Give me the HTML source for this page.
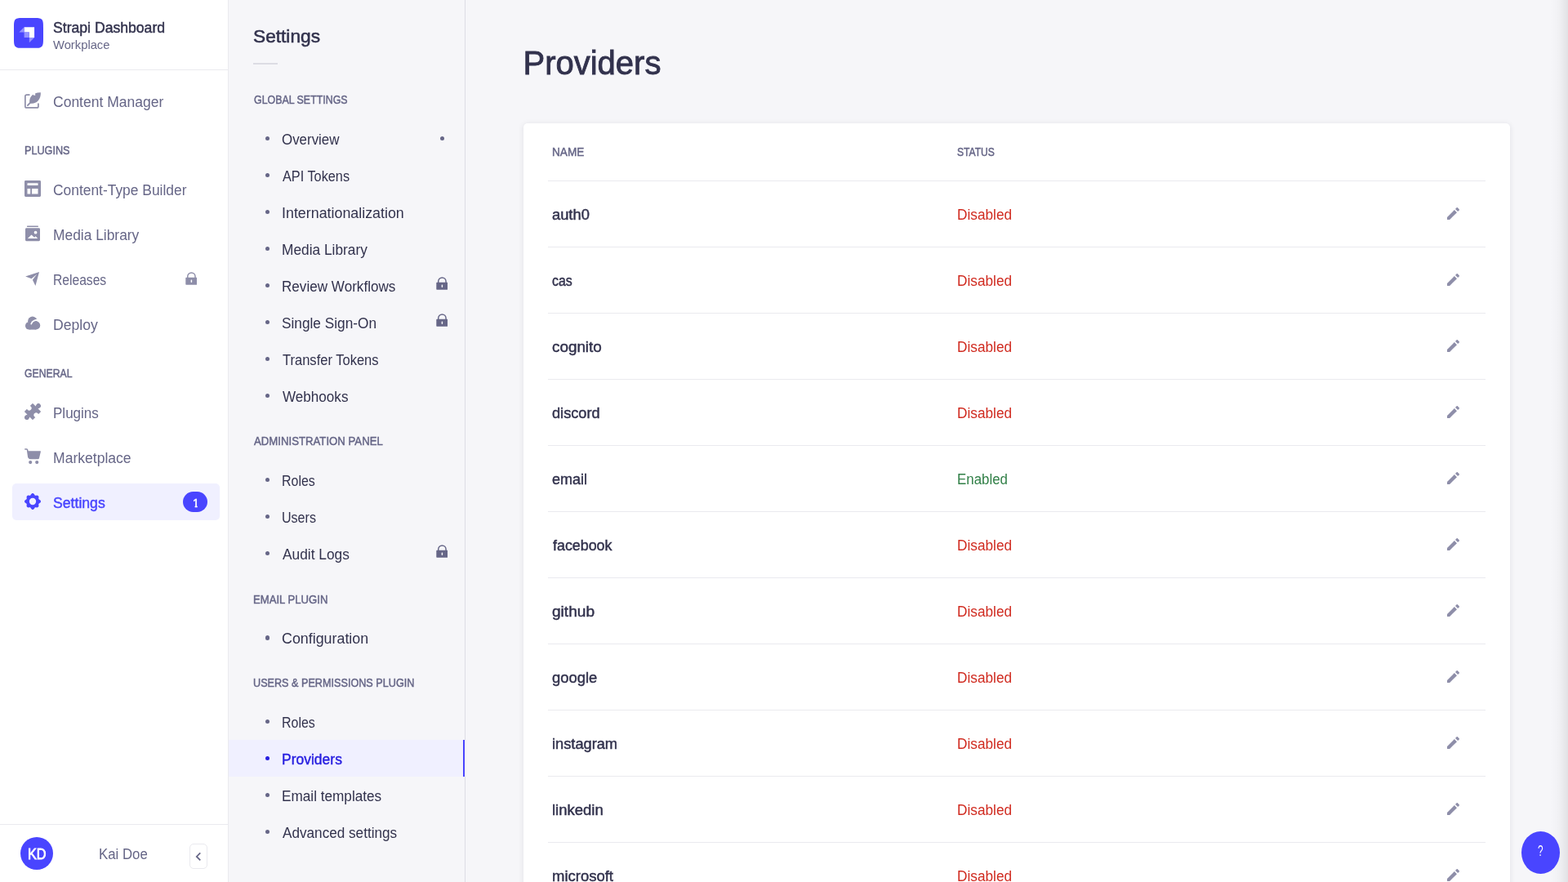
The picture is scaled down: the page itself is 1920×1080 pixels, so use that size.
<!DOCTYPE html>
<html lang="en">
<head>
<meta charset="utf-8">
<title>Strapi Dashboard - Providers</title>
<style>
*{box-sizing:border-box;margin:0;padding:0}
html,body{width:1920px;height:1080px;overflow:hidden;background:#f6f6f9}
body{font-family:"Liberation Sans",sans-serif;font-size:17.5px;color:#32324d;position:relative}
svg{display:block}
h1,h2{font-weight:400;font-size:inherit}
a{color:inherit;text-decoration:none;display:block}
.t{position:absolute;display:block;white-space:nowrap;line-height:20px;transform-origin:0 50%}
/* ---------- main nav ---------- */
#nav{position:absolute;left:0;top:0;width:280px;height:1080px;background:#fff;border-right:1px solid #eaeaef}
#brand{position:absolute;left:0;top:0;width:279px;height:86px;border-bottom:1px solid #eaeaef}
#logo{position:absolute;left:17px;top:22px;width:36px;height:36.8px}
.nl{position:absolute;left:15px;width:254px;height:45px;border-radius:5px}
.nl .ic{position:absolute;left:15px;top:12.5px;width:20px;height:20px}
.nl.act{background:#f0f0ff}
.nh{position:absolute}
.lock{position:absolute}
.bdg{position:absolute;left:208.8px;top:9.5px;width:30.3px;height:25px;border-radius:12.5px;background:#4945ff}
#user{position:absolute;left:0;top:1009px;width:279px;height:71px;border-top:1px solid #eaeaef}
#av{position:absolute;left:25px;top:15px;width:40px;height:40px;border-radius:50%;background:#4945ff}
#col{position:absolute;left:232px;top:23px;width:22px;height:31px;border:1px solid #eaeaef;border-radius:5px;background:#fff}
/* ---------- sub nav ---------- */
#sub{position:absolute;left:280px;top:0;width:290px;height:1080px;background:#f6f6f9;border-right:1px solid #dcdce4}
#sd{position:absolute;left:30px;top:77px;width:30px;height:2px;background:#dcdce4}
.si{position:absolute;left:0;width:289px;height:45px}
.si .b{position:absolute;left:44.6px;top:19.9px;width:5.6px;height:5.6px;border-radius:50%;background:#666687}
.si.act{background:#f0f0ff;border-right:2px solid #4945ff}
.si.act:after{content:"";position:absolute;left:289px;top:0;width:1px;height:45px;background:#f4f4f4}
.si.act .b{background:#271fe0}
.si .rd{position:absolute;left:258.7px;top:19.9px;width:5.6px;height:5.6px;border-radius:50%;background:#666687}
/* ---------- main ---------- */
#main{position:absolute;left:570px;top:0;width:1350px;height:1080px;background:#f6f6f9}
#card{position:absolute;left:71px;top:151px;width:1208px;height:960px;background:#fff;border-radius:5px;box-shadow:0 1px 7px rgba(33,33,52,.1)}
.hr{position:absolute;left:30px;width:1148px;height:1px;background:#eaeaef}
.tr{position:absolute;left:30px;width:1148px;height:80px}
.tr .p{position:absolute;width:15px;height:15px}
#help{position:absolute;left:1863px;top:1018px;width:47px;height:52px;border-radius:50%;background:#4945ff}
#edge{position:absolute;left:1897px;top:0;width:23px;height:1080px;background:linear-gradient(to right,rgba(0,0,0,0) 0%,rgba(0,0,0,.006) 26%,rgba(0,0,0,.02) 48%,rgba(0,0,0,.042) 70%,rgba(0,0,0,.066) 87%,rgba(0,0,0,.086) 100%)}
</style>
</head>
<body>
<main id="main">
  <h1><span class="t" id="m_h1" style="left:70.48px;top:66.94px;font-size:40px;color:#32324d;-webkit-text-stroke:0.85px #32324d;transform:scaleX(1.0000);">Providers</span></h1>
  <div id="card">
    <span class="t" id="m_th1" style="left:34.99px;top:25.74px;font-size:13.75px;color:#666687;-webkit-text-stroke:0.45px #666687;transform:scaleX(0.9894);">NAME</span><span class="t" id="m_th2" style="left:531.21px;top:25.74px;font-size:13.75px;color:#666687;-webkit-text-stroke:0.45px #666687;transform:scaleX(0.8788);">STATUS</span>
    <div class="hr" style="top:70px"></div>
    <div class="tr" style="top:71px"><span class="t" id="r_n0" style="left:5.34px;top:31.04px;font-size:17.5px;color:#32324d;-webkit-text-stroke:0.45px #32324d;transform:scaleX(1.0462);">auth0</span><span class="t" id="r_s0" style="left:500.73px;top:31.04px;font-size:17.5px;color:#d02b20;transform:scaleX(0.9861);">Disabled</span><svg class="p" style="left:1101.00px;top:32.00px" viewBox="0 0 24 24"><path fill="#8e8ea9" d="M23.604 3.514c.528.528.528 1.36 0 1.887l-2.622 2.607-4.99-4.99L18.6.396a1.322 1.322 0 0 1 1.887 0l3.118 3.118ZM0 24v-4.99l14.2-14.2 4.99 4.99L4.99 24H0Z"/></svg></div>
    <div class="hr" style="top:151px"></div>
    <div class="tr" style="top:152px"><span class="t" id="r_n1" style="left:5.01px;top:31.04px;font-size:17.5px;color:#32324d;-webkit-text-stroke:0.45px #32324d;transform:scaleX(0.9059);">cas</span><span class="t" id="r_s1" style="left:500.73px;top:31.04px;font-size:17.5px;color:#d02b20;transform:scaleX(0.9861);">Disabled</span><svg class="p" style="left:1101.00px;top:32.00px" viewBox="0 0 24 24"><path fill="#8e8ea9" d="M23.604 3.514c.528.528.528 1.36 0 1.887l-2.622 2.607-4.99-4.99L18.6.396a1.322 1.322 0 0 1 1.887 0l3.118 3.118ZM0 24v-4.99l14.2-14.2 4.99 4.99L4.99 24H0Z"/></svg></div>
    <div class="hr" style="top:232px"></div>
    <div class="tr" style="top:233px"><span class="t" id="r_n2" style="left:5.28px;top:31.04px;font-size:17.5px;color:#32324d;-webkit-text-stroke:0.45px #32324d;transform:scaleX(1.0767);">cognito</span><span class="t" id="r_s2" style="left:500.73px;top:31.04px;font-size:17.5px;color:#d02b20;transform:scaleX(0.9861);">Disabled</span><svg class="p" style="left:1101.00px;top:32.00px" viewBox="0 0 24 24"><path fill="#8e8ea9" d="M23.604 3.514c.528.528.528 1.36 0 1.887l-2.622 2.607-4.99-4.99L18.6.396a1.322 1.322 0 0 1 1.887 0l3.118 3.118ZM0 24v-4.99l14.2-14.2 4.99 4.99L4.99 24H0Z"/></svg></div>
    <div class="hr" style="top:313px"></div>
    <div class="tr" style="top:314px"><span class="t" id="r_n3" style="left:5.37px;top:31.04px;font-size:17.5px;color:#32324d;-webkit-text-stroke:0.45px #32324d;transform:scaleX(1.0394);">discord</span><span class="t" id="r_s3" style="left:500.73px;top:31.04px;font-size:17.5px;color:#d02b20;transform:scaleX(0.9861);">Disabled</span><svg class="p" style="left:1101.00px;top:32.00px" viewBox="0 0 24 24"><path fill="#8e8ea9" d="M23.604 3.514c.528.528.528 1.36 0 1.887l-2.622 2.607-4.99-4.99L18.6.396a1.322 1.322 0 0 1 1.887 0l3.118 3.118ZM0 24v-4.99l14.2-14.2 4.99 4.99L4.99 24H0Z"/></svg></div>
    <div class="hr" style="top:394px"></div>
    <div class="tr" style="top:395px"><span class="t" id="r_n4" style="left:5.01px;top:31.04px;font-size:17.5px;color:#32324d;-webkit-text-stroke:0.45px #32324d;transform:scaleX(1.0260);">email</span><span class="t" id="r_s4" style="left:501.05px;top:31.04px;font-size:17.5px;color:#328048;transform:scaleX(0.9645);">Enabled</span><svg class="p" style="left:1101.00px;top:32.00px" viewBox="0 0 24 24"><path fill="#8e8ea9" d="M23.604 3.514c.528.528.528 1.36 0 1.887l-2.622 2.607-4.99-4.99L18.6.396a1.322 1.322 0 0 1 1.887 0l3.118 3.118ZM0 24v-4.99l14.2-14.2 4.99 4.99L4.99 24H0Z"/></svg></div>
    <div class="hr" style="top:475px"></div>
    <div class="tr" style="top:476px"><span class="t" id="r_n5" style="left:5.90px;top:31.04px;font-size:17.5px;color:#32324d;-webkit-text-stroke:0.45px #32324d;transform:scaleX(1.0203);">facebook</span><span class="t" id="r_s5" style="left:500.73px;top:31.04px;font-size:17.5px;color:#d02b20;transform:scaleX(0.9861);">Disabled</span><svg class="p" style="left:1101.00px;top:32.00px" viewBox="0 0 24 24"><path fill="#8e8ea9" d="M23.604 3.514c.528.528.528 1.36 0 1.887l-2.622 2.607-4.99-4.99L18.6.396a1.322 1.322 0 0 1 1.887 0l3.118 3.118ZM0 24v-4.99l14.2-14.2 4.99 4.99L4.99 24H0Z"/></svg></div>
    <div class="hr" style="top:556px"></div>
    <div class="tr" style="top:557px"><span class="t" id="r_n6" style="left:5.38px;top:31.04px;font-size:17.5px;color:#32324d;-webkit-text-stroke:0.45px #32324d;transform:scaleX(1.0912);">github</span><span class="t" id="r_s6" style="left:500.73px;top:31.04px;font-size:17.5px;color:#d02b20;transform:scaleX(0.9861);">Disabled</span><svg class="p" style="left:1101.00px;top:32.00px" viewBox="0 0 24 24"><path fill="#8e8ea9" d="M23.604 3.514c.528.528.528 1.36 0 1.887l-2.622 2.607-4.99-4.99L18.6.396a1.322 1.322 0 0 1 1.887 0l3.118 3.118ZM0 24v-4.99l14.2-14.2 4.99 4.99L4.99 24H0Z"/></svg></div>
    <div class="hr" style="top:637px"></div>
    <div class="tr" style="top:638px"><span class="t" id="r_n7" style="left:4.95px;top:31.04px;font-size:17.5px;color:#32324d;-webkit-text-stroke:0.45px #32324d;transform:scaleX(1.0503);">google</span><span class="t" id="r_s7" style="left:500.73px;top:31.04px;font-size:17.5px;color:#d02b20;transform:scaleX(0.9861);">Disabled</span><svg class="p" style="left:1101.00px;top:32.00px" viewBox="0 0 24 24"><path fill="#8e8ea9" d="M23.604 3.514c.528.528.528 1.36 0 1.887l-2.622 2.607-4.99-4.99L18.6.396a1.322 1.322 0 0 1 1.887 0l3.118 3.118ZM0 24v-4.99l14.2-14.2 4.99 4.99L4.99 24H0Z"/></svg></div>
    <div class="hr" style="top:718px"></div>
    <div class="tr" style="top:719px"><span class="t" id="r_n8" style="left:4.56px;top:31.04px;font-size:17.5px;color:#32324d;-webkit-text-stroke:0.45px #32324d;transform:scaleX(1.0420);">instagram</span><span class="t" id="r_s8" style="left:500.73px;top:31.04px;font-size:17.5px;color:#d02b20;transform:scaleX(0.9861);">Disabled</span><svg class="p" style="left:1101.00px;top:32.00px" viewBox="0 0 24 24"><path fill="#8e8ea9" d="M23.604 3.514c.528.528.528 1.36 0 1.887l-2.622 2.607-4.99-4.99L18.6.396a1.322 1.322 0 0 1 1.887 0l3.118 3.118ZM0 24v-4.99l14.2-14.2 4.99 4.99L4.99 24H0Z"/></svg></div>
    <div class="hr" style="top:799px"></div>
    <div class="tr" style="top:800px"><span class="t" id="r_n9" style="left:4.87px;top:31.04px;font-size:17.5px;color:#32324d;-webkit-text-stroke:0.45px #32324d;transform:scaleX(1.0572);">linkedin</span><span class="t" id="r_s9" style="left:500.73px;top:31.04px;font-size:17.5px;color:#d02b20;transform:scaleX(0.9861);">Disabled</span><svg class="p" style="left:1101.00px;top:32.00px" viewBox="0 0 24 24"><path fill="#8e8ea9" d="M23.604 3.514c.528.528.528 1.36 0 1.887l-2.622 2.607-4.99-4.99L18.6.396a1.322 1.322 0 0 1 1.887 0l3.118 3.118ZM0 24v-4.99l14.2-14.2 4.99 4.99L4.99 24H0Z"/></svg></div>
    <div class="hr" style="top:880px"></div>
    <div class="tr" style="top:881px"><span class="t" id="r_n10" style="left:4.86px;top:31.04px;font-size:17.5px;color:#32324d;-webkit-text-stroke:0.45px #32324d;transform:scaleX(1.0558);">microsoft</span><span class="t" id="r_s10" style="left:500.73px;top:31.04px;font-size:17.5px;color:#d02b20;transform:scaleX(0.9861);">Disabled</span><svg class="p" style="left:1101.00px;top:32.00px" viewBox="0 0 24 24"><path fill="#8e8ea9" d="M23.604 3.514c.528.528.528 1.36 0 1.887l-2.622 2.607-4.99-4.99L18.6.396a1.322 1.322 0 0 1 1.887 0l3.118 3.118ZM0 24v-4.99l14.2-14.2 4.99 4.99L4.99 24H0Z"/></svg></div>
  </div>
</main>
<nav id="sub" aria-label="Settings">
  <h2><span class="t" id="s_h" style="left:30.09px;top:34.80px;font-size:22.5px;color:#32324d;-webkit-text-stroke:0.56px #32324d;transform:scaleX(1.0085);">Settings</span></h2>
  <span class="t" id="s_l1" style="left:30.65px;top:113.14px;font-size:13.75px;color:#666687;-webkit-text-stroke:0.45px #666687;transform:scaleX(0.9015);">GLOBAL SETTINGS</span>
  <a class="si" style="top:147px"><i class="b"></i><span class="t" id="s_ov" style="left:65.44px;top:13.74px;font-size:17.5px;color:#32324d;transform:scaleX(0.9664);">Overview</span><i class="rd"></i></a>
  <a class="si" style="top:192px"><i class="b"></i><span class="t" id="s_api" style="left:66.34px;top:13.74px;font-size:17.5px;color:#32324d;transform:scaleX(0.9300);">API Tokens</span></a>
  <a class="si" style="top:237px"><i class="b"></i><span class="t" id="s_i18" style="left:64.66px;top:13.74px;font-size:17.5px;color:#32324d;transform:scaleX(1.0197);">Internationalization</span></a>
  <a class="si" style="top:282px"><i class="b"></i><span class="t" id="s_sml" style="left:65.05px;top:13.74px;font-size:17.5px;color:#32324d;transform:scaleX(0.9887);">Media Library</span></a>
  <a class="si" style="top:327px"><i class="b"></i><span class="t" id="s_rw" style="left:65.06px;top:13.74px;font-size:17.5px;color:#32324d;transform:scaleX(0.9769);">Review Workflows</span><svg class="lock" style="left:253.60px;top:11.80px;width:14.4px;height:16px" viewBox="0 0 14.4 16"><path d="M2.75 7.2V5.6a4.65 4.65 0 0 1 9.3 0V7.2" fill="none" stroke="#666687" stroke-width="1.45"/><path fill-rule="evenodd" fill="#666687" d="M1 6.7H13.4A.7 .7 0 0 1 14.1 7.4V15.1A.7 .7 0 0 1 13.4 15.8H1A.7 .7 0 0 1 .3 15.1V7.4A.7 .7 0 0 1 1 6.7ZM6.65 10.3V12.3A.75 .75 0 0 0 8.15 12.3V10.3A.75 .75 0 0 0 6.65 10.3Z"/></svg></a>
  <a class="si" style="top:372px"><i class="b"></i><span class="t" id="s_sso" style="left:64.86px;top:13.74px;font-size:17.5px;color:#32324d;transform:scaleX(0.9860);">Single Sign-On</span><svg class="lock" style="left:253.60px;top:11.80px;width:14.4px;height:16px" viewBox="0 0 14.4 16"><path d="M2.75 7.2V5.6a4.65 4.65 0 0 1 9.3 0V7.2" fill="none" stroke="#666687" stroke-width="1.45"/><path fill-rule="evenodd" fill="#666687" d="M1 6.7H13.4A.7 .7 0 0 1 14.1 7.4V15.1A.7 .7 0 0 1 13.4 15.8H1A.7 .7 0 0 1 .3 15.1V7.4A.7 .7 0 0 1 1 6.7ZM6.65 10.3V12.3A.75 .75 0 0 0 8.15 12.3V10.3A.75 .75 0 0 0 6.65 10.3Z"/></svg></a>
  <a class="si" style="top:417px"><i class="b"></i><span class="t" id="s_tt" style="left:65.61px;top:13.74px;font-size:17.5px;color:#32324d;transform:scaleX(0.9444);">Transfer Tokens</span></a>
  <a class="si" style="top:462px"><i class="b"></i><span class="t" id="s_wh" style="left:65.83px;top:13.74px;font-size:17.5px;color:#32324d;transform:scaleX(0.9766);">Webhooks</span></a>
  <span class="t" id="s_l2" style="left:31.18px;top:531.24px;font-size:13.75px;color:#666687;-webkit-text-stroke:0.45px #666687;transform:scaleX(0.9592);">ADMINISTRATION PANEL</span>
  <a class="si" style="top:565px"><i class="b"></i><span class="t" id="s_ro1" style="left:64.91px;top:13.74px;font-size:17.5px;color:#32324d;transform:scaleX(0.9116);">Roles</span></a>
  <a class="si" style="top:610px"><i class="b"></i><span class="t" id="s_us" style="left:65.09px;top:13.74px;font-size:17.5px;color:#32324d;transform:scaleX(0.9174);">Users</span></a>
  <a class="si" style="top:655px"><i class="b"></i><span class="t" id="s_al" style="left:66.09px;top:13.74px;font-size:17.5px;color:#32324d;transform:scaleX(0.9898);">Audit Logs</span><svg class="lock" style="left:253.60px;top:11.80px;width:14.4px;height:16px" viewBox="0 0 14.4 16"><path d="M2.75 7.2V5.6a4.65 4.65 0 0 1 9.3 0V7.2" fill="none" stroke="#666687" stroke-width="1.45"/><path fill-rule="evenodd" fill="#666687" d="M1 6.7H13.4A.7 .7 0 0 1 14.1 7.4V15.1A.7 .7 0 0 1 13.4 15.8H1A.7 .7 0 0 1 .3 15.1V7.4A.7 .7 0 0 1 1 6.7ZM6.65 10.3V12.3A.75 .75 0 0 0 8.15 12.3V10.3A.75 .75 0 0 0 6.65 10.3Z"/></svg></a>
  <span class="t" id="s_l3" style="left:29.88px;top:724.64px;font-size:13.75px;color:#666687;-webkit-text-stroke:0.45px #666687;transform:scaleX(0.9539);">EMAIL PLUGIN</span>
  <a class="si" style="top:758.4px"><i class="b"></i><span class="t" id="s_cfg" style="left:65.17px;top:13.74px;font-size:17.5px;color:#32324d;transform:scaleX(1.0202);">Configuration</span></a>
  <span class="t" id="s_l4" style="left:30.31px;top:827.24px;font-size:13.75px;color:#666687;-webkit-text-stroke:0.45px #666687;transform:scaleX(0.9192);">USERS &amp; PERMISSIONS PLUGIN</span>
  <a class="si" style="top:861px"><i class="b"></i><span class="t" id="s_ro2" style="left:64.91px;top:13.74px;font-size:17.5px;color:#32324d;transform:scaleX(0.9116);">Roles</span></a>
  <a class="si act" style="top:906px"><i class="b"></i><span class="t" id="s_pr" style="left:65.29px;top:13.74px;font-size:17.5px;color:#271fe0;-webkit-text-stroke:0.45px #271fe0;transform:scaleX(0.9995);">Providers</span></a>
  <a class="si" style="top:951px"><i class="b"></i><span class="t" id="s_et" style="left:64.71px;top:13.74px;font-size:17.5px;color:#32324d;transform:scaleX(0.9817);">Email templates</span></a>
  <a class="si" style="top:996px"><i class="b"></i><span class="t" id="s_as" style="left:66.35px;top:13.74px;font-size:17.5px;color:#32324d;transform:scaleX(0.9800);">Advanced settings</span></a>
  <div id="sd"></div>
</nav>
<nav id="nav" aria-label="Main">
  <div id="brand">
    <svg id="logo" viewBox="0 0 32 32" preserveAspectRatio="none"><path fill="#4945FF" d="M0 11.0929C0 5.86368 0 3.24903 1.62452 1.62452C3.24903 0 5.86364 0 11.0929 0H20.9071C26.1363 0 28.751 0 30.3755 1.62452C32 3.24903 32 5.86364 32 11.0929V20.9071C32 26.1363 32 28.751 30.3755 30.3755C28.751 32 26.1363 32 20.9071 32H11.0929C5.86364 32 3.24903 32 1.62452 30.3755C0 28.751 0 26.1363 0 20.9071V11.0929Z"/><path fill="#fff" d="M22.0796 9.70667H11.1996V15.2533H16.7463V20.8H22.2929V9.92C22.2929 9.80218 22.1974 9.70667 22.0796 9.70667Z"/><path fill="#9593FF" d="M11.2 15.2533H16.5333C16.6512 15.2533 16.7467 15.3488 16.7467 15.4667V20.8H11.4133C11.2955 20.8 11.2 20.7045 11.2 20.5867V15.2533Z"/><path fill="#9593FF" d="M16.7467 20.8H22.2933L16.9288 26.1645C16.8616 26.2317 16.7467 26.1841 16.7467 26.0891V20.8Z"/><path fill="#9593FF" d="M11.2 15.2533H5.91091C5.81588 15.2533 5.76829 15.1384 5.83549 15.0712L11.2 9.70667V15.2533Z"/></svg>
    <span class="t" id="b_t" style="left:64.91px;top:23.84px;font-size:17.5px;color:#32324d;-webkit-text-stroke:0.45px #32324d;transform:scaleX(1.0065);">Strapi Dashboard</span><span class="t" id="b_s" style="left:65.02px;top:44.70px;font-size:15px;color:#666687;transform:scaleX(0.9840);">Workplace</span>
  </div>
  <a class="nl" style="top:100.5px"><svg class="ic" viewBox="0 0 20 20"><path d="M5.9 3.1H2.6A1.75 1.75 0 0 0 .85 4.85V17.2A1.75 1.75 0 0 0 2.6 18.95H15.15A1.75 1.75 0 0 0 16.9 17.2V14.1" fill="none" stroke="#8e8ea9" stroke-width="1.7" stroke-linecap="round"/><path d="M19.85 0.15C19.95 4.2 19.2 7.6 16.5 10.5C14 13.2 10.6 14.1 6.4 13.4C5.7 9.4 6.6 5.9 10.2 2.7C10.9 3.5 12.1 4 13.3 3.7C13.1 2.9 13.1 1.9 13.2 1.2C15.2 0.4 17.4 0.1 19.85 0.15Z" fill="#8e8ea9"/><path d="M7.2 12.7L3.9 16" stroke="#8e8ea9" stroke-width="1.8" stroke-linecap="round"/></svg><span class="t" id="n_cm" style="left:50.21px;top:14.44px;font-size:17.5px;color:#666687;transform:scaleX(1.0003);">Content Manager</span></a>
  <a class="nl" style="top:208.5px"><svg class="ic" viewBox="0 0 20 20"><path fill-rule="evenodd" fill="#8e8ea9" d="M1.4 0H18.6A1.4 1.4 0 0 1 20 1.4V18.6A1.4 1.4 0 0 1 18.6 20H1.4A1.4 1.4 0 0 1 0 18.6V1.4A1.4 1.4 0 0 1 1.4 0ZM3.5 3.2V6H16.5V3.2ZM3.5 10V16.4H7.2V10ZM9 10V16.4H16.5V10Z"/></svg><span class="t" id="n_ctb" style="left:50.09px;top:14.44px;font-size:17.5px;color:#666687;transform:scaleX(0.9945);">Content-Type Builder</span></a>
  <a class="nl" style="top:263.5px"><svg class="ic" viewBox="0 0 20 20"><rect x="2.9" y="0.4" width="14.1" height="1.6" rx=".7" fill="#8e8ea9"/><path fill-rule="evenodd" fill="#8e8ea9" d="M2.4 3.3H17.6A1.4 1.4 0 0 1 19 4.7V17.8A1.4 1.4 0 0 1 17.6 19.2H2.4A1.4 1.4 0 0 1 1 17.8V4.7A1.4 1.4 0 0 1 2.4 3.3ZM13.55 6.8a1.9 1.9 0 1 0 0 3.8a1.9 1.9 0 1 0 0-3.8ZM3.9 16.1L8.5 11.5L12.1 14.7L13.55 13.3L16.2 16.1Z"/></svg><span class="t" id="n_ml" style="left:49.50px;top:14.44px;font-size:17.5px;color:#666687;transform:scaleX(0.9930);">Media Library</span></a>
  <a class="nl" style="top:318.5px"><svg class="ic" viewBox="0 0 20 20"><path fill="#8e8ea9" d="M1.1 7.45L18 2L13.45 18.9L9.9 11.75L14.9 5L8.55 10.2Z"/></svg><span class="t" id="n_rel" style="left:49.67px;top:14.44px;font-size:17.5px;color:#666687;transform:scaleX(0.8932);">Releases</span><svg class="lock" style="left:212.00px;top:14.90px;width:14.4px;height:16px" viewBox="0 0 14.4 16"><path d="M2.75 7.2V5.6a4.65 4.65 0 0 1 9.3 0V7.2" fill="none" stroke="#8e8ea9" stroke-width="1.45"/><path fill-rule="evenodd" fill="#8e8ea9" d="M1 6.7H13.4A.7 .7 0 0 1 14.1 7.4V15.1A.7 .7 0 0 1 13.4 15.8H1A.7 .7 0 0 1 .3 15.1V7.4A.7 .7 0 0 1 1 6.7ZM6.65 10.3V12.3A.75 .75 0 0 0 8.15 12.3V10.3A.75 .75 0 0 0 6.65 10.3Z"/></svg></a>
  <a class="nl" style="top:373.5px"><svg class="ic" viewBox="0 0 20 20"><circle cx="9.8" cy="7.15" r="5.65" fill="#8e8ea9"/><circle cx="5.65" cy="12.9" r="4.7" fill="#8e8ea9"/><rect x="5.65" y="12.2" width="8.5" height="5.4" fill="#8e8ea9"/><path d="M17.4 7.0A6.1 6.1 0 0 0 8.35 10.55" fill="none" stroke="#fff" stroke-width="1.9" stroke-linecap="round"/><circle cx="14.1" cy="12.45" r="5.12" fill="#8e8ea9"/></svg><span class="t" id="n_dep" style="left:50.03px;top:14.44px;font-size:17.5px;color:#666687;transform:scaleX(1.0072);">Deploy</span></a>
  <a class="nl" style="top:481.5px"><svg class="ic" viewBox="0 0 20 20"><g transform="translate(10 10.05) rotate(-45)" fill="#8e8ea9"><rect x="-7.2" y="-7.2" width="14.4" height="14.4" rx=".7"/><rect x="6.8" y="-2.15" width="3.2" height="4.3"/><circle cx="10" cy="0" r="2.9"/><rect x="-10" y="-2.15" width="3.2" height="4.3"/><circle cx="-10" cy="0" r="2.9"/><circle cx="0" cy="-6.05" r="2.85" fill="#fff"/><circle cx="0" cy="6.05" r="2.85" fill="#fff"/></g></svg><span class="t" id="n_plg" style="left:49.84px;top:14.44px;font-size:17.5px;color:#666687;transform:scaleX(0.9730);">Plugins</span></a>
  <a class="nl" style="top:536.5px"><svg class="ic" viewBox="0 0 20 20"><path d="M.8 1H2.6A1 1 0 0 1 3.6 1.85L4.9 11" fill="none" stroke="#8e8ea9" stroke-width="1.6" stroke-linecap="round" stroke-linejoin="round"/><path fill="#8e8ea9" d="M3.9 3.2H19.2A.7 .7 0 0 1 19.9 4.05L18 12A1.7 1.7 0 0 1 16.35 13.3H6.6A1.7 1.7 0 0 1 4.9 11.85Z"/><circle cx="7.2" cy="17.1" r="2.1" fill="#8e8ea9"/><circle cx="15.2" cy="17.1" r="2.1" fill="#8e8ea9"/></svg><span class="t" id="n_mkt" style="left:49.64px;top:14.44px;font-size:17.5px;color:#666687;transform:scaleX(1.0033);">Marketplace</span></a>
  <a class="nl act" style="top:592.0px"><svg class="ic" style="top:12px" viewBox="0 0 20 20"><path fill-rule="evenodd" fill="#4945ff" d="M10.00 0.00 L10.49 0.08 L10.96 0.30 L11.39 0.64 L11.78 1.07 L12.12 1.54 L12.42 2.01 L12.71 2.42 L13.02 2.70 L13.43 2.74 L13.90 2.70 L14.41 2.64 L14.95 2.60 L15.48 2.61 L15.99 2.70 L16.44 2.89 L16.82 3.18 L17.11 3.56 L17.30 4.01 L17.39 4.52 L17.40 5.05 L17.36 5.59 L17.30 6.10 L17.26 6.57 L17.30 6.98 L17.58 7.29 L17.99 7.58 L18.46 7.88 L18.93 8.22 L19.36 8.61 L19.70 9.04 L19.92 9.51 L20.00 10.00 L19.92 10.49 L19.70 10.96 L19.36 11.39 L18.93 11.78 L18.46 12.12 L17.99 12.42 L17.58 12.71 L17.30 13.02 L17.26 13.43 L17.30 13.90 L17.36 14.41 L17.40 14.95 L17.39 15.48 L17.30 15.99 L17.11 16.44 L16.82 16.82 L16.44 17.11 L15.99 17.30 L15.48 17.39 L14.95 17.40 L14.41 17.36 L13.90 17.30 L13.43 17.26 L13.02 17.30 L12.71 17.58 L12.42 17.99 L12.12 18.46 L11.78 18.93 L11.39 19.36 L10.96 19.70 L10.49 19.92 L10.00 20.00 L9.51 19.92 L9.04 19.70 L8.61 19.36 L8.22 18.93 L7.88 18.46 L7.58 17.99 L7.29 17.58 L6.98 17.30 L6.57 17.26 L6.10 17.30 L5.59 17.36 L5.05 17.40 L4.52 17.39 L4.01 17.30 L3.56 17.11 L3.18 16.82 L2.89 16.44 L2.70 15.99 L2.61 15.48 L2.60 14.95 L2.64 14.41 L2.70 13.90 L2.74 13.43 L2.70 13.02 L2.42 12.71 L2.01 12.42 L1.54 12.12 L1.07 11.78 L0.64 11.39 L0.30 10.96 L0.08 10.49 L0.00 10.00 L0.08 9.51 L0.30 9.04 L0.64 8.61 L1.07 8.22 L1.54 7.88 L2.01 7.58 L2.42 7.29 L2.70 6.98 L2.74 6.57 L2.70 6.10 L2.64 5.59 L2.60 5.05 L2.61 4.52 L2.70 4.01 L2.89 3.56 L3.18 3.18 L3.56 2.89 L4.01 2.70 L4.52 2.61 L5.05 2.60 L5.59 2.64 L6.10 2.70 L6.57 2.74 L6.98 2.70 L7.29 2.42 L7.58 2.01 L7.88 1.54 L8.22 1.07 L8.61 0.64 L9.04 0.30 L9.51 0.08Z M10 5.85a4.15 4.15 0 1 0 0 8.3a4.15 4.15 0 1 0 0-8.3Z"/></svg><span class="t" id="n_set" style="left:50.35px;top:14.44px;font-size:17.5px;color:#4945ff;-webkit-text-stroke:0.45px #4945ff;transform:scaleX(1.0081);">Settings</span><div class="bdg"><span class="t" id="n_bdg" style="left:12.25px;top:4.65px;font-size:14px;color:#fff;-webkit-text-stroke:0.5px #fff;clip-path:polygon(0 0,100% 0,100% 12.4px,5.6px 12.4px,5.6px 20px,2.6px 20px,2.6px 12.4px,0 12.4px);">1</span></div></a>
  <div class="nh" style="top:0;left:0"><span class="t" id="n_h1" style="left:29.63px;top:175.24px;font-size:13.75px;color:#666687;-webkit-text-stroke:0.45px #666687;transform:scaleX(0.9200);">PLUGINS</span></div>
  <div class="nh" style="top:0;left:0"><span class="t" id="n_h2" style="left:30.25px;top:448.24px;font-size:13.75px;color:#666687;-webkit-text-stroke:0.45px #666687;transform:scaleX(0.8897);">GENERAL</span></div>
  <div id="user">
    <div id="av"></div>
    <span class="t" id="u_n" style="left:121.17px;top:25.94px;font-size:17.5px;color:#666687;transform:scaleX(0.9601);">Kai Doe</span><span class="t" id="u_a" style="left:34.30px;top:25.54px;font-size:17.5px;color:#fff;-webkit-text-stroke:0.8px #fff;transform:scaleX(0.9300);">KD</span>
    <div id="col"><svg style="position:absolute;left:0;top:0;width:22px;height:31px" viewBox="0 0 22 31"><path d="M12.3 10.4L7.8 14.9L12.3 19.4" fill="none" stroke="#666687" stroke-width="1.8"/></svg></div>
  </div>
</nav>
<div id="edge"></div>
<div id="help"><span class="t" id="h_q" style="left:20.01px;top:14.34px;font-size:17.5px;color:#fff;transform:scaleX(0.6714);">?</span></div>
</body>
</html>
